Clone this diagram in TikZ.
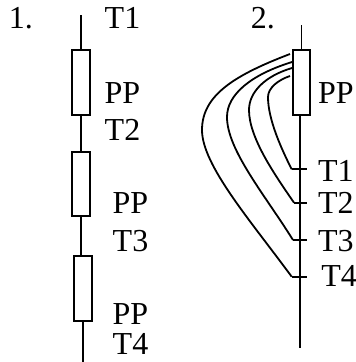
\documentclass[tikz,border=0pt]{standalone}
\usepackage{fontspec}
\setmainfont{Liberation Serif}
\begin{document}
\begin{tikzpicture}[x=1pt,y=-1pt,
  wire/.style={line width=1.8pt},
  resistor/.style={draw,line width=1.8pt,rectangle,inner sep=0pt,minimum width=18.2pt},
  lbl/.style={anchor=base west,inner sep=0pt,font=\fontsize{32}{32}\selectfont}]
\useasboundingbox (0,0) rectangle (356,362);

% ---- 1. series chain of three elements ----
\node[lbl] (n1) at (8.6,28.5) {1.};
\coordinate (a0) at (81,15);
\node[resistor,minimum height=65.2pt] (r1) at (81,82.5) {};
\node[resistor,minimum height=64.2pt] (r2) at (81,184) {};
\node[resistor,minimum height=65.2pt] (r3) at (83,288.5) {};
\coordinate (a4) at (83,362);
\draw[wire] (a0) -- (r1.north);
\draw[wire] (r1.south) -- (r2.north);
\draw[wire] (r2.south) -- (r2.south |- r3.north);
\draw[wire] (r3.south) -- (a4);

\node[lbl] (t1a) at (104.5,28.3) {T1};
\node[lbl] (p1) at (104.5,103.3) {PP};
\node[lbl] (t2a) at (104.5,140.5) {T2};
\node[lbl] (p2) at (112.5,213.3) {PP};
\node[lbl] (t3a) at (112.5,251) {T3};
\node[lbl] (p3) at (112.5,324) {PP};
\node[lbl] (t4a) at (112.5,354.5) {T4};

% ---- 2. one element with four taps ----
\node[lbl] (n2) at (250.7,28.5) {2.};
\coordinate (b0) at (301.5,25);
\node[resistor,minimum width=17.2pt,minimum height=65.2pt] (rb) at (301.5,82.5) {};
\coordinate (btop) at (300,116);
\coordinate (bend) at (300,348);
\draw[wire] (b0) -- (rb.north);
\draw[wire] (btop) -- (bend);

% tap points on the line
\coordinate (k1) at (291.7,169.3);
\coordinate (k2) at (294,202.7);
\coordinate (k3) at (293,240);
\coordinate (k4) at (291.7,276.7);
\draw[wire] (k1) -- (k1 -| 307,0);
\draw[wire] (k2) -- (k2 -| 307,0);
\draw[wire] (k3) -- (k3 -| 307,0);
\draw[wire] (k4) -- (k4 -| 307,0);

% leads leaving the element
\coordinate (s1) at (290,54);
\coordinate (s2) at (292,62);
\coordinate (s3) at (292,68);
\coordinate (s4) at (290,76);

\draw[wire] (s1) .. controls (235,75) and (202,95) .. (202,130)
                 .. controls (202,165) and (250,220) .. (k4);
\draw[wire] (s2) .. controls (250,75) and (227,95) .. (227,117)
                 .. controls (227,150) and (265,195) .. (k3);
\draw[wire] (s3) .. controls (265,76) and (249,92) .. (249,110)
                 .. controls (249,138) and (275,175) .. (k2);
\draw[wire] (s4) .. controls (278,80) and (268,88) .. (268,97)
                 .. controls (268,120) and (282,150) .. (k1);

\node[lbl] (pb) at (317.8,103.3) {PP};
\node[lbl] (t1b) at (317.8,181.5) {T1};
\node[lbl] (t2b) at (317.8,213.3) {T2};
\node[lbl] (t3b) at (317.8,251) {T3};
\node[lbl] (t4b) at (321.2,286.7) {T4};
\end{tikzpicture}
\end{document}
